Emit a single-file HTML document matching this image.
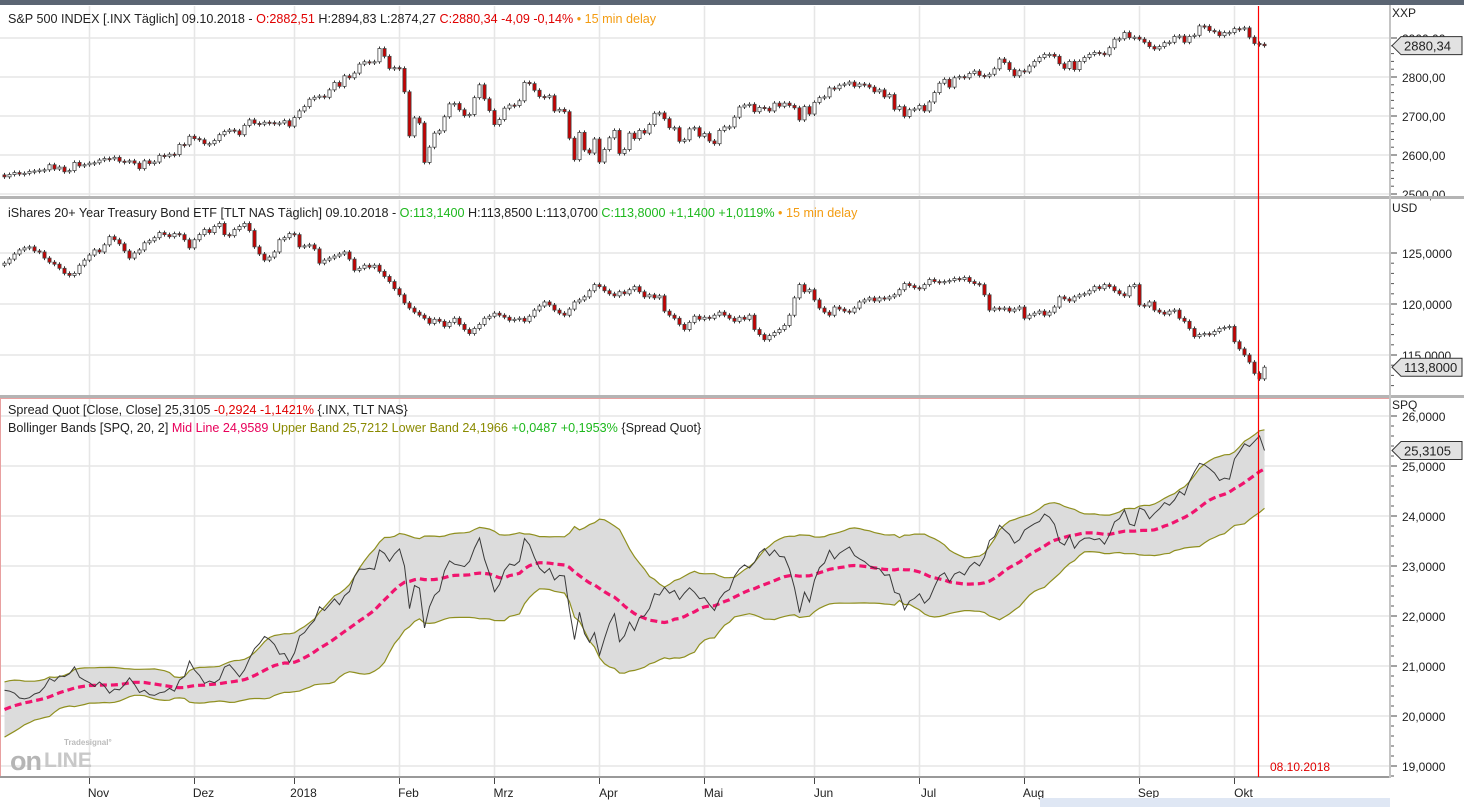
<!DOCTYPE html>
<html><head><meta charset="utf-8"><title>SPX / TLT Spread</title>
<style>
html,body{margin:0;padding:0;background:#fff;}
body{width:1464px;height:807px;overflow:hidden;font-family:"Liberation Sans",sans-serif;}
svg text{font-family:"Liberation Sans",sans-serif;}
</style></head>
<body>
<svg id="chart" width="1464" height="807" viewBox="0 0 1464 807" xmlns="http://www.w3.org/2000/svg">
<rect x="0" y="0" width="1464" height="807" fill="#fff"/>
<rect x="0" y="0" width="1464" height="5" fill="#5b6573"/>
<defs>
<clipPath id="c1"><rect x="0" y="6" width="1390" height="190"/></clipPath>
<clipPath id="c2"><rect x="0" y="200" width="1390" height="195"/></clipPath>
<clipPath id="c3"><rect x="0" y="398" width="1390" height="378"/></clipPath>
</defs>
<g id="grid"></g>
<g id="p1" clip-path="url(#c1)"></g>
<g id="p2" clip-path="url(#c2)"></g>
<g id="p3" clip-path="url(#c3)"></g>
<g id="axes"></g>

<text x="8" y="23" font-size="12.6" fill="#222">S&amp;P 500 INDEX [.INX Täglich] 09.10.2018 - <tspan fill="#e00000">O:2882,51</tspan> H:2894,83 L:2874,27 <tspan fill="#e00000">C:2880,34 -4,09 -0,14%</tspan> <tspan fill="#f39c12">• 15 min delay</tspan></text>
<text x="8" y="217" font-size="12.6" fill="#222">iShares 20+ Year Treasury Bond ETF [TLT NAS Täglich] 09.10.2018 - <tspan fill="#1db81d">O:113,1400</tspan> H:113,8500 L:113,0700 <tspan fill="#1db81d">C:113,8000 +1,1400 +1,0119%</tspan> <tspan fill="#f39c12">• 15 min delay</tspan></text>
<text x="8" y="414" font-size="12.6" fill="#222">Spread Quot [Close, Close] 25,3105 <tspan fill="#e00000">-0,2924 -1,1421%</tspan> {.INX, TLT NAS}</text>
<text x="8" y="432" font-size="12.6" fill="#222">Bollinger Bands [SPQ, 20, 2] <tspan fill="#e8005a">Mid Line 24,9589</tspan> <tspan fill="#8a8a00">Upper Band 25,7212 Lower Band 24,1966</tspan> <tspan fill="#1db81d">+0,0487 +0,1953%</tspan> {Spread Quot}</text>

<g>
<text x="64" y="745" font-size="8" font-weight="bold" fill="#bbb">Tradesignal°</text>
<text x="10" y="770" font-size="27" font-weight="bold" fill="#b5b5b5" letter-spacing="-1">on</text>
<text x="44" y="767" font-size="21" font-weight="bold" fill="#c8c8c8">LINE</text>
</g>
<text x="1270" y="771" font-size="12" fill="#e00000">08.10.2018</text>
<rect x="1040" y="798" width="350" height="9" fill="#dfe7f4"/>
</svg>
<script>
// ---- data ----
const monthLabels = ["Nov","Dez","2018","Feb","Mrz","Apr","Mai","Jun","Jul","Aug","Sep","Okt"];
const monthStartIdx = [17,38,58,79,98,119,140,162,183,204,227,246];
const spxWarm = [2496,2498,2495,2500,2503,2506,2508,2500,2502,2497,2496,2507,2510,2519,2529,2534,2537,2552,2549];
const spxClose = [
2544,2550,2555,2551,2553,2558,2559,2561,2562,2575,2564,2569,2557,2560,2581,2572,2575,
2579,2580,2587,2591,2590,2594,2584,2582,2585,2579,2565,2585,2578,2582,2599,2597,2602,2601,2627,2626,2648,
2642,2639,2629,2629,2637,2652,2660,2664,2662,2652,2676,2690,2681,2679,2684,2683,2681,2682,2688,2674,
2696,2713,2724,2743,2748,2751,2748,2767,2786,2776,2803,2798,2810,2833,2839,2837,2839,2873,2853,2822,2824,
2822,2762,2649,2695,2682,2581,2620,2656,2662,2698,2731,2732,2716,2701,2704,2747,2780,2744,2714,
2678,2691,2720,2728,2727,2739,2786,2783,2766,2750,2748,2752,2713,2717,2711,2643,2588,2658,2613,2605,2641,
2582,2614,2644,2663,2604,2614,2656,2642,2663,2656,2678,2707,2708,2693,2670,2670,2635,2639,2667,2670,2648,
2655,2636,2629,2663,2672,2672,2697,2723,2728,2730,2711,2722,2720,2713,2733,2725,2733,2727,2721,2690,2724,2705,
2735,2747,2749,2772,2770,2779,2782,2787,2776,2782,2780,2774,2762,2767,2749,2755,2717,2724,2699,2716,2718,
2727,2713,2736,2760,2784,2794,2774,2798,2801,2798,2809,2815,2804,2802,2807,2821,2846,2837,2819,2803,2816,
2813,2828,2840,2850,2858,2858,2853,2834,2822,2840,2819,2840,2850,2858,2863,2861,2857,2875,2897,2898,2914,2901,2902,
2897,2889,2878,2872,2878,2888,2889,2904,2905,2889,2904,2907,2931,2930,2919,2916,2906,2914,2914,
2924,2923,2926,2902,2886,2884,2880.34];
const tltWarm = [126.8,126.5,126.0,126.3,125.5,125.6,124.8,124.5,124.7,125.5,125.0,124.3,124.0,123.8,124.2,124.3,124.5,124.0,123.8];
const tltClose = [
124.0,124.4,124.9,125.3,125.5,125.6,125.2,125.1,124.5,124.1,
123.9,123.5,123.0,122.8,123.0,123.8,124.3,124.8,125.3,125.1,
125.8,126.6,126.3,125.9,125.2,124.5,125.0,125.3,126.0,126.2,
126.5,127.0,126.8,126.6,126.9,126.8,126.3,125.5,126.3,126.8,
127.3,127.0,127.6,127.9,126.8,126.7,127.3,127.6,127.9,127.2,
125.6,124.9,124.3,124.6,125.1,126.3,126.5,126.9,126.8,125.6,
125.7,125.8,125.4,124.0,124.3,124.5,124.7,124.9,125.1,124.4,
123.3,123.5,123.8,123.6,123.8,123.2,122.7,122.2,121.5,120.9,
120.1,119.6,119.2,118.9,118.6,118.1,118.5,118.3,117.8,118.2,
118.6,118.0,117.5,117.1,117.6,118.0,118.6,118.8,119.1,118.9,
118.7,118.4,118.5,118.6,118.3,118.8,119.4,119.8,120.2,119.9,
119.4,119.1,118.9,119.5,120.2,120.4,120.7,121.3,121.9,121.7,
121.3,121.0,120.8,121.2,121.0,121.4,121.7,121.2,120.7,120.9,
120.6,120.8,119.3,118.9,118.6,118.0,117.5,118.2,118.8,118.5,
118.7,118.6,118.9,119.2,118.9,118.6,118.3,118.7,118.5,118.9,
117.5,117.0,116.5,116.9,117.2,117.5,117.9,118.9,120.6,121.9,
121.2,121.4,120.4,119.6,119.2,118.9,119.7,119.5,119.3,119.2,
119.6,120.2,120.4,120.6,120.3,120.6,120.5,120.7,120.9,121.4,
122.0,121.8,121.6,121.5,121.9,122.4,122.2,122.1,122.2,122.3,
122.5,122.4,122.6,122.2,122.0,121.9,120.9,119.4,119.6,119.5,
119.6,119.3,119.5,119.7,118.6,118.9,119.1,119.3,118.9,119.2,
119.7,120.7,120.5,120.3,120.7,120.9,121.0,121.3,121.7,121.5,
121.9,121.7,121.3,121.0,120.8,121.7,121.9,119.9,119.8,120.2,
119.4,119.2,119.0,119.3,119.4,118.6,118.3,117.6,116.8,117.0,
117.1,117.0,117.3,117.6,117.7,117.8,116.3,115.6,115.0,114.3,
113.2,112.66,113.8];
const spxTicks = [2900,2800,2700,2600,2500];
const spxTickLabels = ["2900,00","2800,00","2700,00","2600,00","2500,00"];
const tltTicks = [125,120,115];
const tltTickLabels = ["125,0000","120,0000","115,0000"];
const spqTicks = [26,25,24,23,22,21,20,19];
const spqTickLabels = ["26,0000","25,0000","24,0000","23,0000","22,0000","21,0000","20,0000","19,0000"];
const cursorIdx = 251;

// ---- scales ----
const NS = "http://www.w3.org/2000/svg";
const xOf = i => 4.5 + 5*i;
const y1 = v => 38 + (2900 - v)*0.39;
const y2 = v => 253 + (125 - v)*10.2;
const y3 = v => 416 + (26 - v)*50;
function mk(tag, attrs, parent){ const e=document.createElementNS(NS,tag); for(const k in attrs) e.setAttribute(k,attrs[k]); parent.appendChild(e); return e; }
const grid = document.getElementById('grid');
const axes = document.getElementById('axes');

monthStartIdx.forEach((mi,k)=>{
  const x = xOf(mi);
  [[6,196],[200,395],[398,777]].forEach(r=>{
    const l = mk('line',{x1:x,x2:x,y1:r[0],y2:r[1],stroke:'#e6e6e6','stroke-width':1.5},grid);
    
    
  });
  const t = mk('line',{x1:x,x2:x,y1:777,y2:784,stroke:'#444'},axes);
  
  
  const lb = mk('text',{x:x+9,y:797,'font-size':12,fill:'#222','text-anchor':'middle'},axes);
  lb.textContent = monthLabels[k];
  
  
});

function hAxis(ticks, labels, yf, top, bot, step){
  ticks.forEach((v,k)=>{
    const y = yf(v);
    if (y>top && y<bot){
      const g = mk('line',{x1:0,x2:1390,y1:y,y2:y,stroke:'#e6e6e6','stroke-width':1.5},grid);
      
      
    }
    const tk = mk('line',{x1:1390,x2:1397,y1:y,y2:y,stroke:'#444'},axes);
    
    
    const t = mk('text',{x:1402,y:y+5,'font-size':12,fill:'#222'},axes);
    t.textContent = labels[k];
    
    
  });
  for (let k=0;k<ticks.length;k++){
    for (let m=1;m<5;m++){
      const y = yf(ticks[k]) + m*(step/5);
      if (y>top && y<bot){
        const mt = mk('line',{x1:1390,x2:1394,y1:y,y2:y,stroke:'#555'},axes);
        
        
      }
    }
  }
}
hAxis(spxTicks, spxTickLabels, y1, 6, 197, 39);
hAxis(tltTicks, tltTickLabels, y2, 200, 395, 51);
hAxis(spqTicks, spqTickLabels, y3, 398, 777, 50);

function candles(group, closes, warm, yf){
  closes.forEach((c,i)=>{
    const o = i===0 ? warm[warm.length-1] : closes[i-1];
    const x = xOf(i);
    const yo = yf(o), yc = yf(c);
    const top = Math.min(yo,yc), h = Math.max(1.2, Math.abs(yo-yc));
    const w = mk('line',{x1:x,x2:x,y1:top-2,y2:top+h+2,stroke:'#333','stroke-width':1},group);
    
    
    const r = mk('rect',{x:x-1.6,y:top,width:3.2,height:h,fill:c<o?'#c80000':'#fff',stroke:'#444','stroke-width':0.8},group);
    
    
  });
}
candles(document.getElementById('p1'), spxClose, spxWarm, y1);
candles(document.getElementById('p2'), tltClose, tltWarm, y2);

const p3 = document.getElementById('p3');
const spAll = spxWarm.map((v,i)=>v/tltWarm[i]).concat(spxClose.map((v,i)=>v/tltClose[i]));
const W = spxWarm.length;
const mid=[], up=[], lo=[], sp=[];
for (let i=0;i<spxClose.length;i++){
  const j = i+W;
  const win = spAll.slice(j-19, j+1);
  const m = win.reduce((a,b)=>a+b,0)/win.length;
  const sd = Math.sqrt(win.reduce((a,b)=>a+(b-m)*(b-m),0)/win.length);
  mid.push(m); up.push(m+2*sd); lo.push(m-2*sd); sp.push(spAll[j]);
}
const pts = arr => arr.map((v,i)=>xOf(i).toFixed(1)+','+y3(v).toFixed(1)).join(' ');
const fillPts = up.map((v,i)=>xOf(i).toFixed(1)+','+y3(v).toFixed(1)).concat(lo.map((v,i)=>[i,v]).reverse().map(a=>xOf(a[0]).toFixed(1)+','+y3(a[1]).toFixed(1))).join(' ');
const band = mk('polygon',{points:fillPts,fill:'#dcdcdc',stroke:'none'},p3);


const upL = mk('polyline',{points:pts(up),fill:'none',stroke:'#8f8f1f','stroke-width':1.2},p3);


const loL = mk('polyline',{points:pts(lo),fill:'none',stroke:'#8f8f1f','stroke-width':1.2},p3);


const midL = mk('polyline',{points:pts(mid),fill:'none',stroke:'#f0146e','stroke-width':3.2,'stroke-dasharray':'7 4'},p3);


const spL = mk('polyline',{points:pts(sp),fill:'none',stroke:'#3a3a3a','stroke-width':1},p3);



const sep = [[196,199],[395,398]];
sep.forEach(s=>{
  const r = mk('rect',{x:0,y:s[0],width:1464,height:s[1]-s[0],fill:'#b4b4b4'},axes);
  
  
});
const p3frame = mk('rect',{x:0.5,y:398.5,width:1389,height:378,fill:'none',stroke:'#e8a0a0','stroke-width':1},axes);


const bot = mk('rect',{x:0,y:776,width:1390,height:2,fill:'#999'},axes);


const vsep = mk('rect',{x:1389,y:5,width:2,height:773,fill:'#c4c4c4'},axes);



const cx = xOf(cursorIdx)-1;
const cl = mk('line',{x1:cx,x2:cx,y1:6,y2:777,stroke:'#ff0000','stroke-width':1.2},axes);



[['XXP',17],['USD',212],['SPQ',409]].forEach(a=>{
  const t = mk('text',{x:1392,y:a[1],'font-size':12,fill:'#222'},axes);
  t.textContent = a[0];
  
  
});
function tag(y, txt){
  const g = mk('g',{},axes);
  
  
  mk('polygon',{points:`1392,${y} 1401,${y-9} 1462,${y-9} 1462,${y+9} 1401,${y+9}`,fill:'#e2e2e2',stroke:'#333','stroke-width':1},g);
  const t = mk('text',{x:1404,y:y+5,'font-size':13,fill:'#222'},g);
  t.textContent = txt;
}
tag(y1(spxClose[spxClose.length-1]), '2880,34');
tag(y2(tltClose[tltClose.length-1]), '113,8000');
tag(y3(sp[sp.length-1]), '25,3105');
</script>
</body></html>
